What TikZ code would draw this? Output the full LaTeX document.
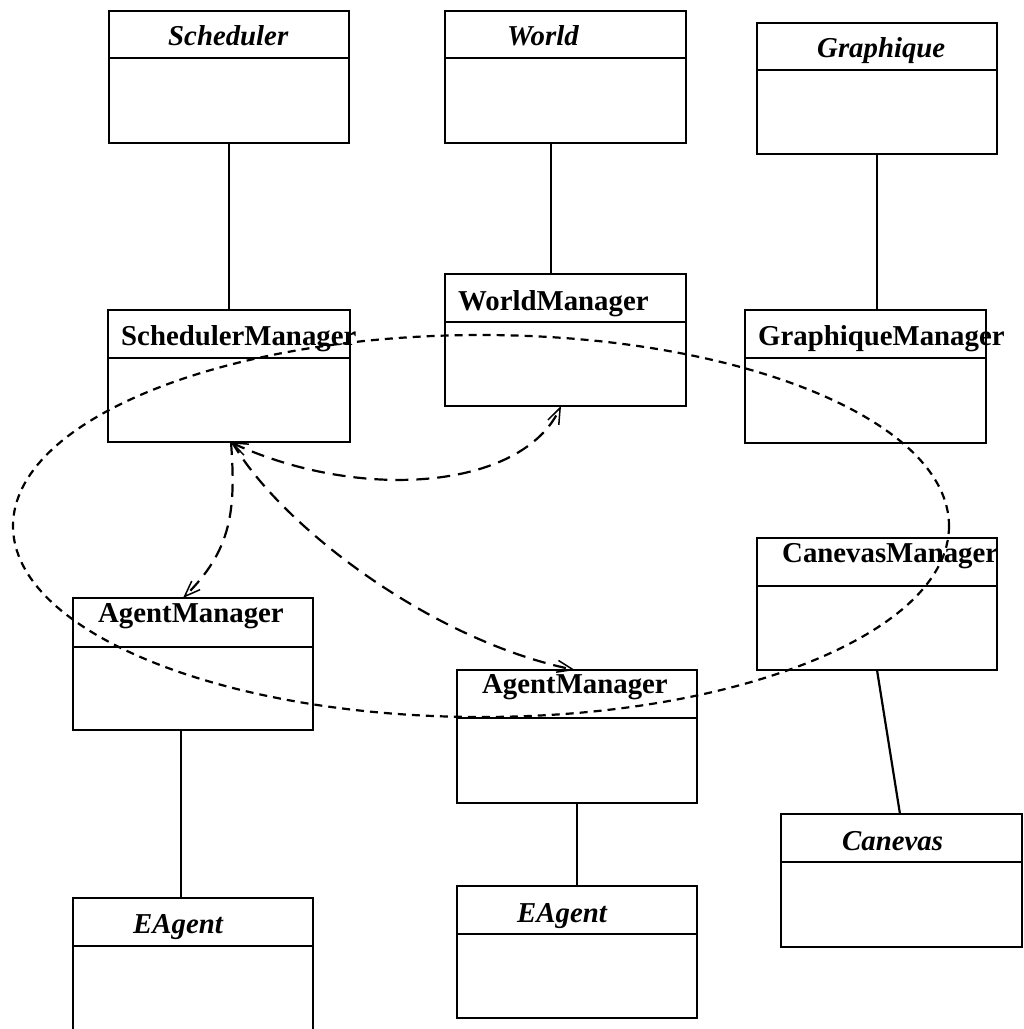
\documentclass[tikz,border=0pt]{standalone}
\usepackage{fontspec}
\setmainfont{Liberation Serif}
\usetikzlibrary{arrows.meta}

% One class box: name, left, top, width, height, height of the name compartment
\newcommand{\classbox}[6]{%
  \node[classframe, minimum width=#4pt, minimum height=#5pt] (#1) at (#2,#3) {};
  \draw[frame] ([yshift=-#6pt]#1.north west) -- ([yshift=-#6pt]#1.north east);
}

\tikzset{
  frame/.style={line width=2.2pt},
  classframe/.style={draw, line width=2.2pt, rectangle, inner sep=0pt, outer sep=0pt, anchor=north west},
  title/.style={font=\fontsize{28.8}{30}\selectfont\bfseries, inner sep=0pt, anchor=base west},
  link/.style={line width=2.2pt},
  dep/.style={line width=2.2pt, dash pattern=on 13pt off 8pt,
    >={Straight Barb[length=16pt,width=12pt,line width=1.5pt]}},
  orbit/.style={line width=2.2pt, dash pattern=on 8pt off 6pt},
}

\begin{document}
\begin{tikzpicture}[x=1pt, y=-1pt]
\useasboundingbox (0,0) rectangle (1024,1029);

% class boxes
\classbox{sched}{109}{11}{240}{132}{47}
\classbox{world}{445}{11}{241}{132}{47}
\classbox{graph}{757}{23}{240}{131}{47}
\classbox{schedM}{108}{310}{242}{132}{48}
\classbox{worldM}{445}{274}{241}{132}{48}
\classbox{graphM}{745}{310}{241}{133}{48}
\classbox{canvM}{757}{538}{240}{132}{48}
\classbox{agentL}{73}{598}{240}{132}{49}
\classbox{agentM}{457}{670}{240}{133}{48}
\classbox{eagentL}{73}{898}{240}{136}{48}
\classbox{eagentM}{457}{886}{240}{132}{48}
\classbox{canv}{781}{814}{241}{133}{48}

% class names
\node[title] (sched-t)   at (168,45)  {\itshape Scheduler};
\node[title] (world-t)   at (507,45)  {\itshape World};
\node[title] (graph-t)   at (817,57)  {\itshape Graphique};
\node[title] (schedM-t)  at (121,345) {SchedulerManager};
\node[title] (worldM-t)  at (458,310) {WorldManager};
\node[title] (graphM-t)  at (758,345) {GraphiqueManager};
\node[title] (canvM-t)   at (782,562) {CanevasManager};
\node[title] (agentL-t)  at (98,622)  {AgentManager};
\node[title] (agentM-t)  at (482,693) {AgentManager};
\node[title] (eagentL-t) at (133,933) {\itshape EAgent};
\node[title] (eagentM-t) at (517,922) {\itshape EAgent};
\node[title] (canv-t)    at (842,850) {\itshape Canevas};

% solid associations
\draw[link] (sched.south) -- (schedM.north);
\draw[link] ([xshift=-14.5pt]world.south) -- ([xshift=-14.5pt]worldM.north);
\draw[link] (graph.south) -- (graph.south |- graphM.north);
\draw[link] (canvM.south) -- ([xshift=-1.5pt]canv.north);
\draw[link] ([xshift=-12pt]agentL.south) -- ([xshift=-12pt]agentL.south |- eagentL.north);
\draw[link] (agentM.south) -- (eagentM.north);

% dependencies leaving the scheduler manager
\draw[dep, <->] ([xshift=1pt]schedM.south) .. controls (360,502) and (522,490) .. ([xshift=-4.5pt]worldM.south);
\draw[dep, ->] ([xshift=2pt]schedM.south) .. controls (236,510) and (232,550) .. ([xshift=-10pt]agentL.north);
\draw[dep, ->] ([xshift=3pt]schedM.south) .. controls (280,525) and (430,640) .. ([xshift=-2pt]agentM.north);

% the group of managers
\draw[orbit] (481,526) ellipse [x radius=468, y radius=191];
\end{tikzpicture}
\end{document}
